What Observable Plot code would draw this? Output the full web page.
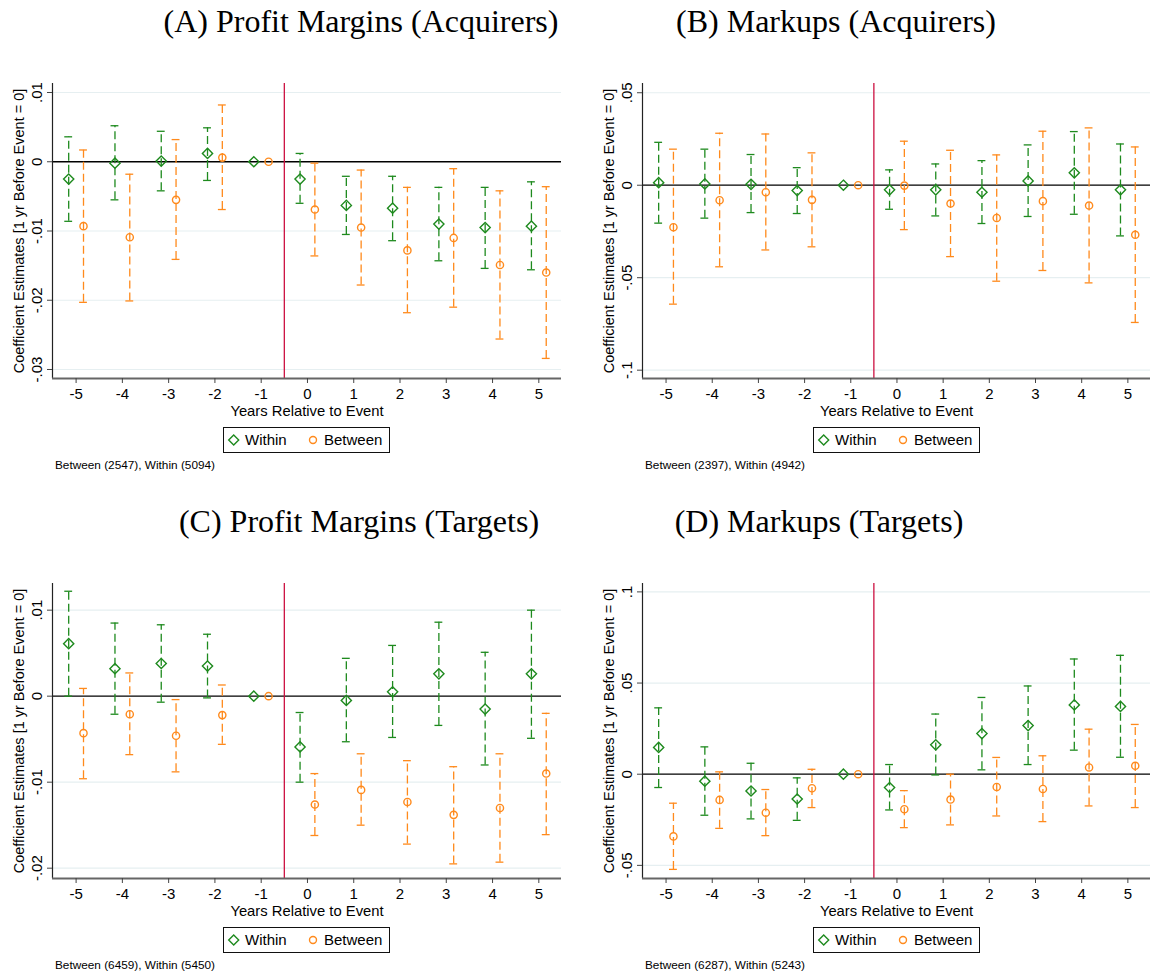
<!DOCTYPE html>
<html>
<head>
<meta charset="utf-8">
<script src="https://cdn.jsdelivr.net/npm/d3@7"></script>
<script src="https://cdn.jsdelivr.net/npm/@observablehq/plot@0.6"></script>
<style>
  html, body { margin: 0; padding: 0; background: #fff; }
  #root { position: relative; width: 1151px; height: 978px; background: #fff; overflow: hidden; }
  .title { position: absolute; width: 600px; text-align: center; font-family: 'Liberation Serif', 'Times New Roman', serif; font-size: 32px; line-height: 32px; color: #000; white-space: nowrap; }
  .legend { position: absolute; height: 26px; border: 1px solid #111; box-sizing: border-box; font-family: 'Liberation Sans', Arial, sans-serif; font-size: 15px; color: #000; }
  .legend span { position: absolute; top: 3px; line-height: 18px; }
  .legend svg { position: absolute; top: 0; left: 0; }
  .note { position: absolute; font-family: 'Liberation Sans', Arial, sans-serif; font-size: 11.8px; color: #000; white-space: nowrap; }
  .panel { position: absolute; }
</style>
</head>
<body>
<div id="root"></div>
<script>
// ---------------- DATA ----------------
const years = [-5, -4, -3, -2, -1, 0, 1, 2, 3, 4, 5];

// (A) Profit Margins (Acquirers)
const pmAcqWithin   = [-0.0025, -0.0002, 0.0001, 0.0012, 0, -0.0025, -0.0063, -0.0067, -0.0090, -0.0095, -0.0093];
const pmAcqWithinLo = [-0.0086, -0.0055, -0.0042, -0.0027, 0, -0.0060, -0.0105, -0.0114, -0.0143, -0.0154, -0.0156];
const pmAcqWithinHi = [0.0036, 0.0052, 0.0044, 0.0049, 0, 0.0012, -0.0021, -0.0021, -0.0037, -0.0037, -0.0029];
const pmAcqBetween   = [-0.0093, -0.0109, -0.0055, 0.0006, 0, -0.0069, -0.0095, -0.0128, -0.0110, -0.0149, -0.0160];
const pmAcqBetweenLo = [-0.0203, -0.0201, -0.0141, -0.0069, 0, -0.0136, -0.0178, -0.0218, -0.0210, -0.0256, -0.0284];
const pmAcqBetweenHi = [0.0017, -0.0018, 0.0032, 0.0082, 0, -0.0002, -0.0012, -0.0037, -0.0010, -0.0042, -0.0036];
const pmAcqTicks = [0.01, 0, -0.01, -0.02, -0.03];

// (B) Markups (Acquirers)
const muAcqWithin   = [0.0014, 0.0007, 0.0005, -0.0029, 0, -0.0025, -0.0025, -0.0038, 0.0023, 0.0067, -0.0025];
const muAcqWithinLo = [-0.0205, -0.0178, -0.0148, -0.0153, 0, -0.0130, -0.0166, -0.0207, -0.0169, -0.0157, -0.0274];
const muAcqWithinHi = [0.0232, 0.0195, 0.0166, 0.0095, 0, 0.0083, 0.0115, 0.0133, 0.0218, 0.0290, 0.0223];
const muAcqBetween   = [-0.0227, -0.0081, -0.0038, -0.0079, 0, -0.0002, -0.0099, -0.0177, -0.0086, -0.0110, -0.0268];
const muAcqBetweenLo = [-0.0643, -0.0441, -0.0350, -0.0333, 0, -0.0240, -0.0386, -0.0519, -0.0461, -0.0528, -0.0742];
const muAcqBetweenHi = [0.0195, 0.0281, 0.0277, 0.0175, 0, 0.0238, 0.0189, 0.0164, 0.0292, 0.0310, 0.0207];
const muAcqTicks = [0.05, 0, -0.05, -0.1];

// (C) Profit Margins (Targets)
const pmTgtWithin   = [0.0061, 0.0032, 0.0038, 0.0035, 0, -0.0059, -0.0005, 0.0005, 0.0026, -0.0015, 0.0026];
const pmTgtWithinLo = [0.0000, -0.0021, -0.0007, -0.0002, 0, -0.0100, -0.0053, -0.0048, -0.0034, -0.0080, -0.0049];
const pmTgtWithinHi = [0.0122, 0.0085, 0.0083, 0.0072, 0, -0.0019, 0.0044, 0.0059, 0.0086, 0.0051, 0.0100];
const pmTgtBetween   = [-0.0043, -0.0021, -0.0046, -0.0022, 0, -0.0126, -0.0109, -0.0123, -0.0138, -0.0130, -0.0090];
const pmTgtBetweenLo = [-0.0096, -0.0068, -0.0088, -0.0056, 0, -0.0162, -0.0150, -0.0172, -0.0195, -0.0193, -0.0161];
const pmTgtBetweenHi = [0.0009, 0.0027, -0.0004, 0.0013, 0, -0.0090, -0.0067, -0.0075, -0.0082, -0.0067, -0.0020];
const pmTgtTicks = [0.01, 0, -0.01, -0.02];

// (D) Markups (Targets)
const muTgtWithin   = [0.0147, -0.0038, -0.0092, -0.0136, 0, -0.0073, 0.0161, 0.0223, 0.0267, 0.0380, 0.0372];
const muTgtWithinLo = [-0.0073, -0.0225, -0.0245, -0.0253, 0, -0.0196, -0.0004, 0.0024, 0.0053, 0.0132, 0.0093];
const muTgtWithinHi = [0.0364, 0.0150, 0.0060, -0.0020, 0, 0.0053, 0.0330, 0.0421, 0.0484, 0.0632, 0.0652];
const muTgtBetween   = [-0.0341, -0.0141, -0.0211, -0.0077, 0, -0.0192, -0.0139, -0.0070, -0.0081, 0.0037, 0.0046];
const muTgtBetweenLo = [-0.0522, -0.0297, -0.0337, -0.0183, 0, -0.0293, -0.0278, -0.0229, -0.0260, -0.0174, -0.0183];
const muTgtBetweenHi = [-0.0159, 0.0013, -0.0084, 0.0027, 0, -0.0090, 0.0000, 0.0092, 0.0101, 0.0247, 0.0273];
const muTgtTicks = [0.1, 0.05, 0, -0.05];

const seriesNames = ["Within", "Between"];
const xLabel = "Years Relative to Event";
const yLabel = "Coefficient Estimates [1 yr Before Event = 0]";

// ---------------- STYLE ----------------
const GREEN = "#1e8a1e";
const ORANGE = "#ff8a1c";
const RED = "#cc1040";
const SANS = "'Liberation Sans', Arial, Helvetica, sans-serif";

const panels = [
  { title: "(A) Profit Margins (Acquirers)", titleCx: 361, titleTop: 5, left: 0, top: 60, width: 580, mL: 52, mR: 19,
    w: [pmAcqWithin, pmAcqWithinLo, pmAcqWithinHi], b: [pmAcqBetween, pmAcqBetweenLo, pmAcqBetweenHi],
    ticks: pmAcqTicks, yDomain: [-0.0313, 0.0113], note: "Between (2547), Within (5094)" },
  { title: "(B) Markups (Acquirers)", titleCx: 836, titleTop: 5, left: 590, top: 60, width: 561, mL: 52, mR: 1,
    w: [muAcqWithin, muAcqWithinLo, muAcqWithinHi], b: [muAcqBetween, muAcqBetweenLo, muAcqBetweenHi],
    ticks: muAcqTicks, yDomain: [-0.1045, 0.055], note: "Between (2397), Within (4942)" },
  { title: "(C) Profit Margins (Targets)", titleCx: 359, titleTop: 505, left: 0, top: 560, width: 580, mL: 52, mR: 19,
    w: [pmTgtWithin, pmTgtWithinLo, pmTgtWithinHi], b: [pmTgtBetween, pmTgtBetweenLo, pmTgtBetweenHi],
    ticks: pmTgtTicks, yDomain: [-0.0212, 0.0131], note: "Between (6459), Within (5450)" },
  { title: "(D) Markups (Targets)", titleCx: 819, titleTop: 505, left: 590, top: 560, width: 561, mL: 52, mR: 1,
    w: [muTgtWithin, muTgtWithinLo, muTgtWithinHi], b: [muTgtBetween, muTgtBetweenLo, muTgtBetweenHi],
    ticks: muTgtTicks, yDomain: [-0.0572, 0.1046], note: "Between (6287), Within (5243)" }
];

const fmtY = d => d === 0 ? "0" : String(+d.toFixed(4)).replace("0.", ".");
const xDomain = [-5.51, 5.49];
const OFF = 0.16, CAP = 0.085;

function rows(arrs, name, offset) {
  const [est, lo, hi] = arrs;
  return years.map((yr, i) => ({ year: yr, x: yr + offset, est: est[i], lo: lo[i], hi: hi[i], series: name }));
}

const root = document.getElementById("root");

for (const p of panels) {
  const mT = 23, plotH = 295, mB = 42;
  const H = mT + plotH + mB;
  const wData = rows(p.w, seriesNames[0], -OFF);
  const bData = rows(p.b, seriesNames[1], OFF);
  const marks = [];
  marks.push(Plot.ruleY(p.ticks.filter(t => t !== 0), { stroke: "#e6eff1", strokeWidth: 1.2 }));
  marks.push(Plot.ruleY([0], { stroke: "#000", strokeWidth: 1.3 }));
  marks.push(Plot.ruleX([-0.5], { stroke: RED, strokeWidth: 1.3 }));
  for (const [data, color, symbol, r] of [[wData, GREEN, "diamond2", 4.6], [bData, ORANGE, "circle", 3.6]]) {
    const withCI = data.filter(d => d.lo !== d.hi);
    marks.push(Plot.ruleX(withCI, { x: "x", y1: "lo", y2: "hi", stroke: color, strokeWidth: 1.3, strokeDasharray: "8,4" }));
    marks.push(Plot.ruleY(withCI, { y: "hi", x1: d => d.x - CAP, x2: d => d.x + CAP, stroke: color, strokeWidth: 1.3 }));
    marks.push(Plot.ruleY(withCI, { y: "lo", x1: d => d.x - CAP, x2: d => d.x + CAP, stroke: color, strokeWidth: 1.3 }));
    marks.push(Plot.dot(data, { x: "x", y: "est", symbol, r, stroke: color, fill: "none", strokeWidth: 1.4 }));
  }
  marks.push(Plot.ruleX([xDomain[0]], { stroke: "#222", strokeWidth: 1.2 }));
  marks.push(Plot.ruleY([p.yDomain[0]], { stroke: "#666", strokeWidth: 2 }));
  marks.push(Plot.axisX({ ticks: years, tickSize: 5, tickPadding: 5, tickFormat: d => String(d), label: null, fontSize: 15, stroke: "#444" }));
  marks.push(Plot.axisY({ ticks: p.ticks, tickSize: 5, tickFormat: () => "", label: null, stroke: "#444" }));
  marks.push(Plot.text(p.ticks, { y: d => d, text: fmtY, frameAnchor: "left", dx: -15, rotate: -90, textAnchor: "middle", lineAnchor: "middle", fontSize: 15 }));
  marks.push(Plot.text([yLabel], { text: d => d, frameAnchor: "left", dx: -33, rotate: -90, textAnchor: "middle", lineAnchor: "middle", fontSize: 14.5 }));
  marks.push(Plot.text([xLabel], { text: d => d, frameAnchor: "bottom", dy: 33, textAnchor: "middle", lineAnchor: "middle", fontSize: 14.8 }));

  const svg = Plot.plot({
    width: p.width, height: H,
    marginTop: mT, marginBottom: mB, marginLeft: p.mL, marginRight: p.mR,
    x: { domain: xDomain, type: "linear" },
    y: { domain: p.yDomain, type: "linear" },
    style: { fontFamily: SANS, fontSize: "15px", color: "#000", background: "transparent", overflow: "visible" },
    marks
  });
  const holder = document.createElement("div");
  holder.className = "panel";
  holder.style.left = p.left + "px";
  holder.style.top = p.top + "px";
  holder.appendChild(svg);
  root.appendChild(holder);

  // Title
  const t = document.createElement("div");
  t.className = "title";
  t.textContent = p.title;
  t.style.left = (p.titleCx - 300) + "px";
  t.style.top = p.titleTop + "px";
  root.appendChild(t);

  // Legend
  const plotCx = p.left + p.mL + (p.width - p.mL - p.mR) / 2;
  const lg = document.createElement("div");
  lg.className = "legend";
  lg.style.left = Math.round(plotCx - 83.5) + "px";
  lg.style.top = (p.top + 367) + "px";
  lg.style.width = "167px";
  lg.innerHTML =
    `<svg width="167" height="24"><path d="M9.7,7 L14.7,12 L9.7,17 L4.7,12 Z" fill="none" stroke="${GREEN}" stroke-width="1.4"/>` +
    `<circle cx="89" cy="12" r="3.5" fill="none" stroke="${ORANGE}" stroke-width="1.4"/></svg>` +
    `<span style="left:21px">${seriesNames[0]}</span><span style="left:100px">${seriesNames[1]}</span>`;
  root.appendChild(lg);

  // Note
  const n = document.createElement("div");
  n.className = "note";
  n.textContent = p.note;
  n.style.left = (p.left + 55) + "px";
  n.style.top = (p.top + 398) + "px";
  root.appendChild(n);
}
</script>
</body>
</html>
